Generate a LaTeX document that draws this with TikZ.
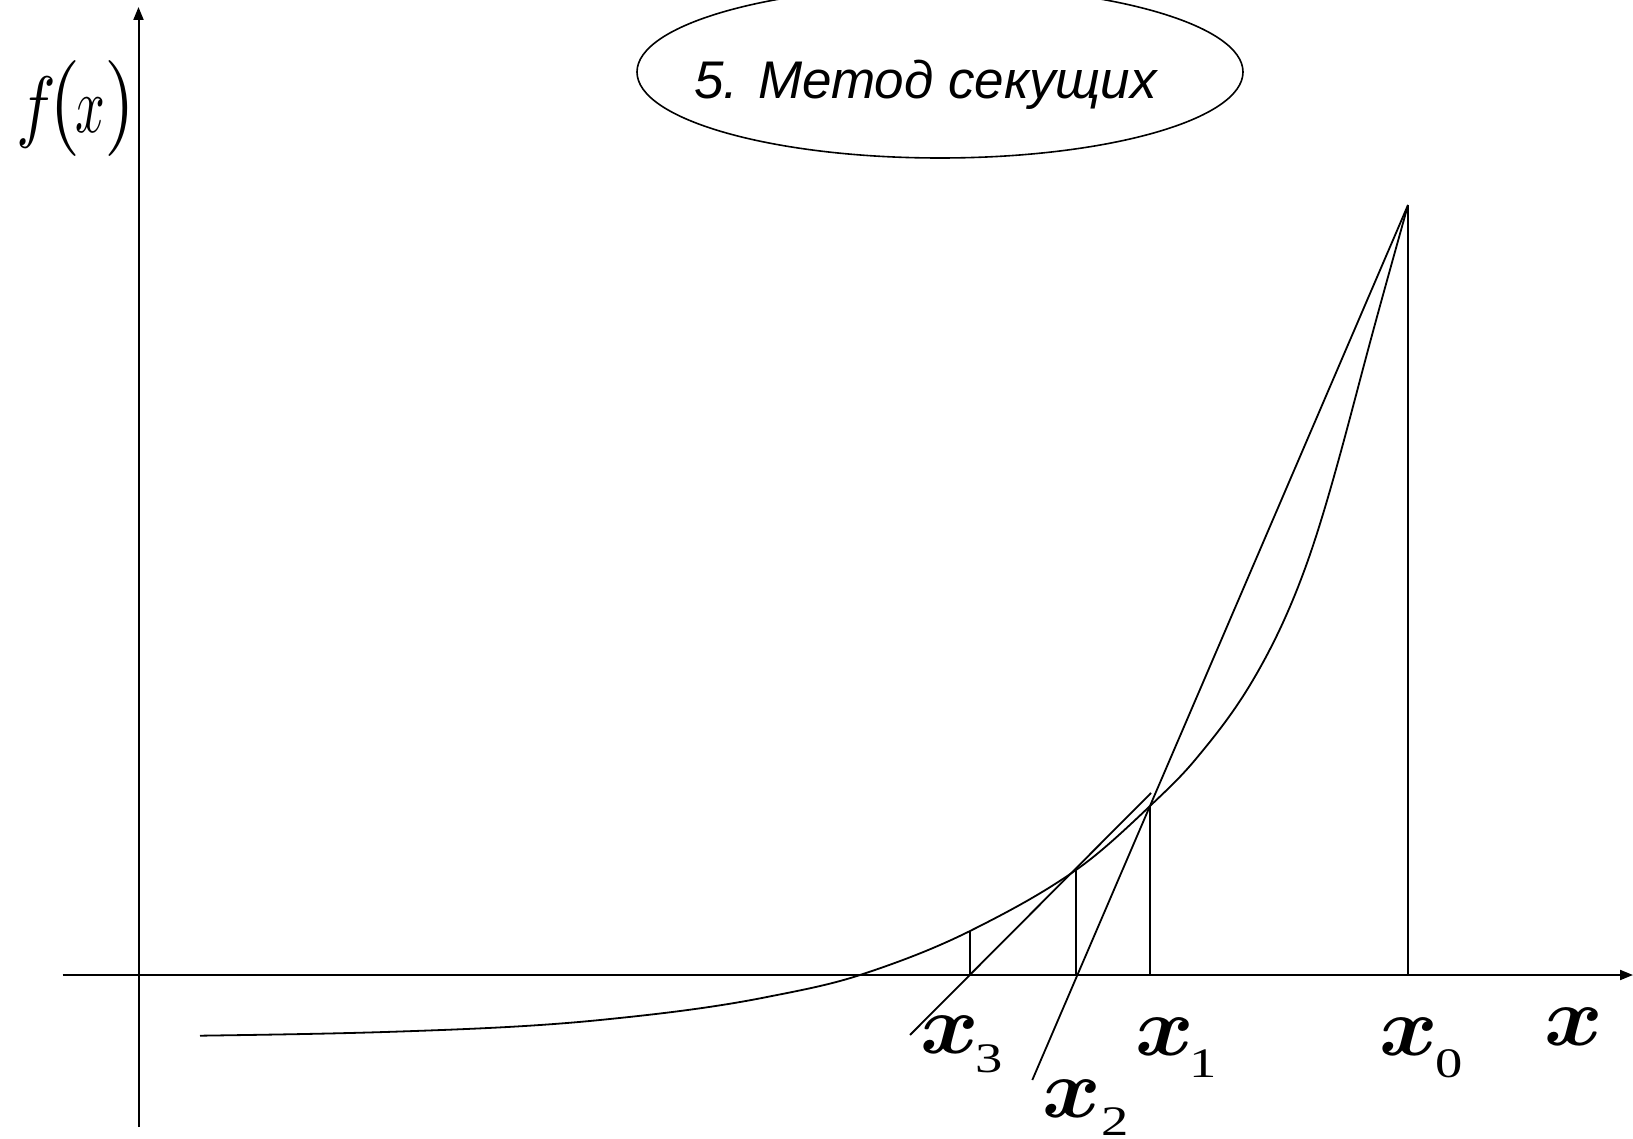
\documentclass[tikz,border=0pt]{standalone}
\usepackage{fontspec}
\usepackage{graphicx}
\setmainfont{Liberation Serif}
\newfontfamily\arialf{Liberation Sans}
\usetikzlibrary{arrows.meta,shapes.geometric}
% big italic x (curly, heavy, as in the reference): 10pt math scaled to 84pt
\newcommand{\bigx}{\scalebox{8.9}[8.4]{\boldmath$x$}}
% axis label: #1 digit, #2 offset of digit, #3 drop of digit
\newcommand{\axlab}[3]{\makebox[0pt][l]{\bigx}\makebox[0pt][l]{\kern#2\raisebox{-#3}{\scalebox{1.3}[1]{\fontsize{42}{42}\selectfont #1}}}\phantom{\bigx}}
\begin{document}
\begin{tikzpicture}[x=1pt,y=-1pt,
  axis/.style={line width=2pt,-{Triangle[length=13pt,width=10pt]}},
  curveline/.style={line width=1.8pt},
  thin/.style={line width=1.5pt},
  lbl/.style={inner sep=0pt,outer sep=0pt,anchor=base west}]
\useasboundingbox (0,0) rectangle (1633,1139);
% key points
\coordinate (ybot) at (138.5,1127);
\coordinate (ytop) at (138.5,7);
\coordinate (xleft) at (62.5,975);
\coordinate (xright) at (1633,975);
\coordinate (P0) at (1408,205);
\coordinate (X0) at (1408,975);
\coordinate (P1) at (1150,806);
\coordinate (X1) at (1150,975);
\coordinate (P2) at (1076,870);
\coordinate (X2) at (1076,975);
\coordinate (P3) at (970,931);
\coordinate (X3) at (970,975);
\coordinate (S1end) at (1032.3,1080);
\coordinate (S2top) at (1151,793);
\coordinate (S2bot) at (910,1035);
% axes
\draw[axis] (ybot) -- (ytop);
\draw[axis] (xleft) -- (xright);
% title
\node[draw,ellipse,line width=1.6pt,minimum width=606pt,minimum height=172pt,inner sep=0pt] (oval) at (940,72) {};
\node[inner sep=0pt,anchor=base] (title) at (925.5,99) {\arialf\itshape\fontsize{53}{53}\selectfont 5. Метод секущих};
% curve f(x)
\draw[curveline] (200,1035.7)
  .. controls (266.7,1034.7) and (333.3,1033.8) .. (400,1031.5)
  .. controls (466.7,1029.2) and (533.3,1026.7) .. (600,1020)
  .. controls (655.7,1014.4) and (711.3,1008.1) .. (767,997)
  .. controls (798,990.8) and (829,985.2) .. (860,975)
  .. controls (896.7,962.9) and (933.3,949.3) .. (P3)
  .. controls (1005.3,913.3) and (1040.7,894.7) .. (P2)
  .. controls (1100.7,852.7) and (1125.3,829.4) .. (P1)
  .. controls (1165,791.75) and (1180,778) .. (1195,760)
  .. controls (1214.3,736.8) and (1233.7,712.8) .. (1253,680)
  .. controls (1271,649.4) and (1289,613.4) .. (1307,563)
  .. controls (1324.7,513.5) and (1342.3,447.1) .. (1360,380)
  .. controls (1376,319.2) and (1392,262.6) .. (P0);
% x0 vertical and secants
\draw[curveline] (X0) -- (P0);
\draw[curveline] (P0) -- (S1end);
\draw[curveline] (S2top) -- (S2bot);
\draw[thin] (X1) -- (P1);
\draw[thin] (X2) -- (P2);
\draw[thin] (X3) -- (P3);
% labels
\node[lbl] (fx) at (13,133) {%
  \makebox[0pt][l]{\kern3pt\scalebox{6.64}[8]{$f$}}%
  \makebox[0pt][l]{\kern36pt\scalebox{8}[9.6]{$($}}%
  \makebox[0pt][l]{\kern62.5pt\scalebox{5.2}[8]{$x$}}%
  \makebox[0pt][l]{\kern92pt\scalebox{8}[9.6]{$)$}}%
  \hspace*{118pt}};
\node[lbl] (lx3) at (920,1053) {\axlab{3}{55.3pt}{19pt}};
\node[lbl] (lx2) at (1042,1117) {\axlab{2}{59.4pt}{18pt}};
\node[lbl] (lx1) at (1135,1055) {\axlab{1}{54pt}{22pt}};
\node[lbl] (lx0) at (1379,1055) {\axlab{0}{56.4pt}{22pt}};
\node[lbl] (lx) at (1544,1045) {\bigx};
\end{tikzpicture}
\end{document}
